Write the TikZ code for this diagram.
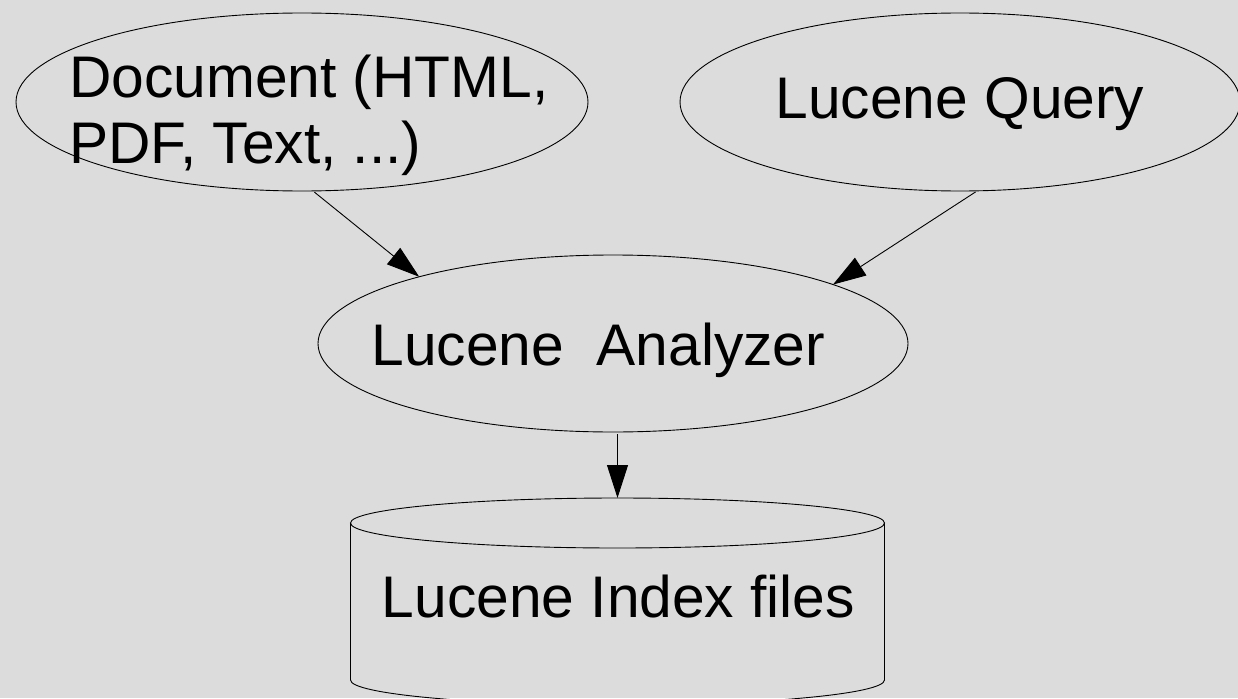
\documentclass[tikz,border=0pt]{standalone}
\usepackage{fontspec}
\setmainfont{Liberation Sans}
\usetikzlibrary{shapes.geometric,arrows.meta}
\definecolor{bgc}{RGB}{220,220,220}
\begin{document}
\begin{tikzpicture}[x=1pt,y=-1pt,
  ell/.style={shape=ellipse,draw=black,line width=0.9pt,inner sep=0pt,outer sep=0pt},
  lbl/.style={inner sep=0pt,font=\fontsize{58.7pt}{66pt}\selectfont},
  arr/.style={draw=black,line width=0.9pt,-{Triangle[length=33pt,width=21pt]},shorten <=2pt}]
\fill[bgc] (0,0) rectangle (1238,698);
\useasboundingbox (0,0) rectangle (1238,698);
\clip (0,0) rectangle (1238,698);
% shapes
\node[ell,minimum width=572pt,minimum height=178pt] (doc) at (302,102) {};
\node[ell,minimum width=560pt,minimum height=178pt] (qry) at (960,102) {};
\node[ell,minimum width=590pt,minimum height=177pt] (ana) at (613,343.5) {};
\node[ell,minimum width=534pt,minimum height=50pt] (cyltop) at (617.5,523) {};
\draw[line width=0.9pt] (cyltop.west) -- ++(0,157) arc[start angle=180,end angle=360,x radius=267pt,y radius=25pt] -- (cyltop.east);
% texts
\node[lbl,anchor=base west,align=left] (doct) at (69,163) {Document (HTML,\\PDF, Text, ...)};
\node[lbl,anchor=base] (qryt) at (960,118) {Lucene Query};
\node[lbl,anchor=base] (anat) at (598.5,365) {Lucene\ \ Analyzer};
\node[lbl,anchor=base] (cylt) at (618.5,617) {Lucene Index files};
% connectors
\draw[arr] (doc.-83) -- (ana.161);
\draw[arr] (qry.-79) -- (ana.15.6);
\draw[arr] (ana.south -| cyltop.north) -- (cyltop.north);
\end{tikzpicture}
\end{document}
